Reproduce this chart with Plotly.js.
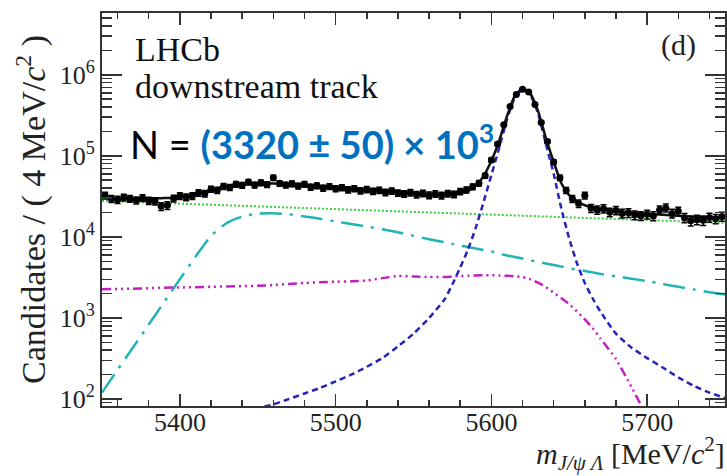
<!DOCTYPE html>
<html><head><meta charset="utf-8">
<script src="https://cdn.plot.ly/plotly-3.0.1.min.js"></script>
<style>html,body{margin:0;padding:0;background:#fff;} #chart{width:727px;height:476px;}</style>
</head><body><div id="chart"></div>
<script>
// ---- fit components on a common mass grid (MeV/c^2) ----
const massGrid = [5350,5360,5370,5380,5390,5400,5410,5420,5430,5440,5450,5460,5470,5480,5490,5500,5510,5520,5530,5540,5550,5560,5570,
  5575,5580,5585,5590,5595,5600,5605,5610,5615,5620,5625,5630,5635,5640,5645,5650,5655,5660,5665,
  5670,5680,5690,5700,5710,5720,5730,5740,5750];
const combinatorial = [27800,27370,26950,26530,26120,25720,25320,24930,24540,24160,23790,23420,23060,22700,22350,22000,21660,21330,21000,20670,20350,20040,19730,
  19570,19420,19270,19120,18970,18820,18680,18530,18390,18250,18100,17960,17820,17690,17550,17410,17280,17140,17010,
  16880,16620,16360,16110,15860,15610,15370,15130,14900];
const partialReco = [120,230,435,830,1580,3000,5700,10300,14800,17800,19300,19600,19000,17900,16700,15500,14400,13400,12400,11400,10300,9370,8600,
  8200,7800,7500,7200,6900,6600,6250,5900,5650,5400,5150,4900,4700,4500,4300,4100,3950,3800,3650,
  3500,3250,3050,2850,2620,2420,2250,2080,1950];
const otherBkg = [2260,2280,2300,2330,2360,2380,2400,2420,2450,2470,2490,2550,2620,2700,2760,2800,2830,2900,3100,3280,3250,3200,3200,
  3240,3280,3320,3350,3360,3360,3340,3320,3270,3200,3000,2720,2400,2050,1750,1480,1200,960,750,
  560,310,140,60,25,10,5,2,1];
const signal = [20,24,28,32,37,42,48,55,62,69,77,86,100,117,137,165,200,250,320,445,640,1000,1700,
  2600,4200,7000,13000,27000,58000,125000,280000,520000,650000,560000,330000,140000,60000,22000,9500,4700,2700,1750,
  1200,640,430,320,245,185,145,120,103];

// ---- data points (4 MeV bins) ----
const binCenters = [5352,5356,5360,5364,5368,5372,5376,5380,5384,5388,
  5392,5396,5400,5404,5408,5412,5416,5420,5424,5428,
  5432,5436,5440,5444,5448,5452,5456,5460,5464,5468,
  5472,5476,5480,5484,5488,5492,5496,5500,5504,5508,
  5512,5516,5520,5524,5528,5532,5536,5540,5544,5548,
  5552,5556,5560,5564,5568,5572,5576,5580,5584,5588,
  5592,5596,5600,5604,5608,5612,5616,5620,5624,5628,
  5632,5636,5640,5644,5648,5652,5656,5660,5664,5668,
  5672,5676,5680,5684,5688,5692,5696,5700,5704,5708,
  5712,5716,5720,5724,5728,5732,5736,5740,5744,5748];
const counts = [32500,29500,28800,30600,29600,28300,30200,28000,27600,23800,
  24500,29800,31900,30900,32000,35000,34100,38800,37600,42000,
  40800,44600,43500,47500,43800,46500,44200,53500,45800,43600,
  45300,42400,44500,41200,42800,40100,41800,39300,40600,38200,
  39500,37100,38500,36500,37700,35400,36900,34800,33900,35200,
  33300,34400,32700,33900,32400,34300,33500,36300,38000,41500,
  46000,57000,89000,140000,241000,405000,570000,665000,615000,430000,
  258000,150000,84000,53500,37500,29500,25800,32500,22600,21500,
  22300,20200,21200,19500,19800,18600,18200,19000,18100,21500,
  22800,19500,20800,17200,15800,16300,16000,17400,16700,17900];
const countErrors = [3060,2920,2890,2970,2920,2860,2950,2840,2820,2620,
  2660,2930,3040,2990,3040,3180,3140,3350,3300,3480,
  3430,3590,3550,3700,3560,3670,3570,3930,3640,3550,
  3620,3500,3590,3450,3520,3400,3480,3370,3430,3320,
  3380,3270,3340,3250,3300,3200,3270,3170,3130,3190,
  3100,3150,3070,3130,3060,3150,3110,3240,3310,3460,
  3650,4060,5070,6360,8350,10800,12800,13900,13300,11100,
  8630,6580,4930,3930,3290,2920,2730,3060,2560,2490,
  2540,2420,2480,2370,2390,2320,2290,2340,2290,2490,
  2570,2370,2450,2230,2140,2170,2150,2240,2200,2270];
const binHalfWidth = 2;

// ---- ticks ----
const xTickVals = [5400,5500,5600,5700];
const xTickText = ['5400','5500','5600','5700'];
const yTickVals = [100,1000,10000,100000,1000000];
const yTickText = ['10<sup>2</sup>','10<sup>3</sup>','10<sup>4</sup>','10<sup>5</sup>','10<sup>6</sup>'];
const yMinorVals = [];
[10,100,1000,10000,100000,1000000].forEach(d=>{for(let k=2;k<=9;k++) yMinorVals.push(k*d);});

const totalFit = massGrid.map((m,i)=>combinatorial[i]+partialReco[i]+otherBkg[i]+signal[i]);

const traces = [
  {x:massGrid, y:combinatorial, mode:'lines', line:{color:'#3dcc3d', width:2, dash:'2px,2px'}, name:'combinatorial'},
  {x:massGrid, y:partialReco, mode:'lines', line:{color:'#22b4b4', width:2.5, dash:'22px,8px,3px,8px', shape:'spline', smoothing:0.6}, name:'partial'},
  {x:massGrid, y:otherBkg, mode:'lines', line:{color:'#c020c0', width:2.5, dash:'9px,4px,2px,4px,2px,4px,2px,4px', shape:'spline', smoothing:0.6}, name:'other'},
  {x:massGrid, y:signal, mode:'lines', line:{color:'#2424b8', width:2.5, dash:'6px,4px', shape:'spline', smoothing:0.6}, name:'signal'},
  {x:massGrid, y:totalFit, mode:'lines', line:{color:'#111', width:2.5, shape:'spline', smoothing:0.6}, name:'fit'},
  {x:binCenters, y:counts, mode:'markers', marker:{color:'#000', size:7},
   error_y:{type:'data', array:countErrors, color:'#000', thickness:1.5, width:3},
   error_x:{type:'constant', value:binHalfWidth, color:'#000', thickness:1.5, width:0}, name:'data'}
];

const serif = 'Liberation Serif';
const axisCommon = {showline:true, linecolor:'#333', linewidth:2, mirror:'allticks', ticks:'inside', tickcolor:'#333', tickwidth:1.5, showgrid:false, zeroline:false, tickfont:{family:serif, size:26, color:'#222'}};

const layout = {
  width:727, height:476,
  margin:{l:102, r:2, t:13, b:70},
  paper_bgcolor:'#fff', plot_bgcolor:'#fff',
  showlegend:false,
  font:{family:serif, color:'#222'},
  xaxis:Object.assign({}, axisCommon, {range:[5350,5750], tickmode:'array', tickvals:xTickVals, ticktext:xTickText, ticklen:12, ticklabelstandoff:-8,
    minor:{tickmode:'linear', tick0:5300, dtick:20, ticks:'inside', ticklen:6, tickwidth:1.5, tickcolor:'#333', showgrid:false}}),
  yaxis:Object.assign({}, axisCommon, {type:'log', range:[1.914,6.762], tickmode:'array', tickvals:yTickVals, ticktext:yTickText, ticklen:20,
    minor:{tickmode:'array', tickvals:yMinorVals, ticks:'inside', ticklen:10, tickwidth:1.5, tickcolor:'#333', showgrid:false},
    title:{text:'Candidates / ( 4 MeV/<i>c</i><sup>2</sup> )', font:{family:serif, size:34, color:'#222'}, standoff:4}}),
  annotations:[
    {xref:'paper', yref:'paper', x:0.0498, y:0.908, xanchor:'left', yanchor:'middle', showarrow:false, text:'LHCb', font:{family:serif, size:34, color:'#111'}},
    {xref:'paper', yref:'paper', x:0.0498, y:0.813, xanchor:'left', yanchor:'middle', showarrow:false, text:'downstream track', font:{family:serif, size:34, color:'#111'}},
    {xref:'paper', yref:'paper', x:0.042, y:0.672, xanchor:'left', yanchor:'middle', showarrow:false,
     text:'N = <b><span style="color:#0070C0">(3320 ± 50) × 10<sup>3</sup></span></b>', font:{family:'Lato', size:38, color:'#000'}},
    {xref:'paper', yref:'paper', x:0.925, y:0.919, xanchor:'center', yanchor:'middle', showarrow:false, text:'(d)', font:{family:serif, size:30, color:'#222'}},
    {xref:'paper', yref:'paper', x:1.003, y:-0.12, xanchor:'right', yanchor:'middle', showarrow:false,
     text:'<i>m</i><sub><i>J/ψ Λ</i></sub> [MeV/<i>c</i><sup>2</sup>]', font:{family:serif, size:30, color:'#222'}}
  ]
};

Plotly.newPlot('chart', traces, layout, {staticPlot:true, displayModeBar:false});
</script></body></html>
